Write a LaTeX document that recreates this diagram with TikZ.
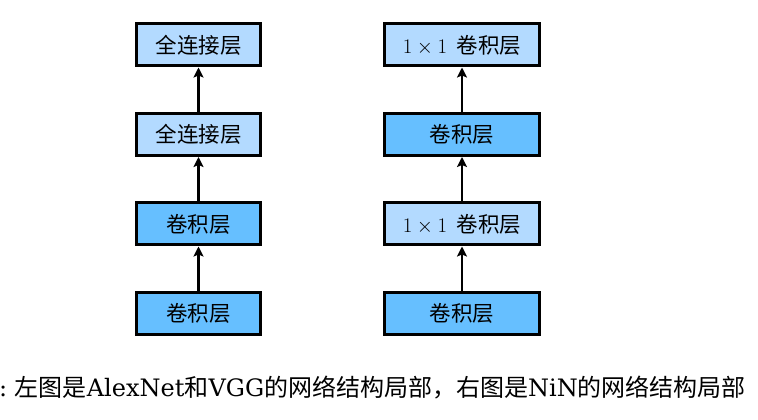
\documentclass[tikz,border=0pt]{standalone}
\usepackage{fontspec}
\setmainfont{DejaVu Serif}
\newfontfamily\cjk{Noto Sans CJK SC}
\usetikzlibrary{positioning,arrows.meta}
\definecolor{fcblue}{RGB}{179,218,255}
\definecolor{convblue}{RGB}{102,191,255}
\tikzset{
  layer/.style={draw=black,line width=3pt,minimum height=42pt,inner sep=0pt,
    font=\fontsize{21.5}{24}\selectfont\cjk},
  narrow/.style={layer,minimum width=124pt},
  wide/.style={layer,minimum width=155pt},
  up/.style={-{Stealth[length=10pt,width=10pt,inset=2pt]},line width=2.4pt}
}

\begin{document}
\begin{tikzpicture}[x=1pt,y=1pt,node distance=44.5pt]
        \useasboundingbox (0,0) rectangle (758,420) ;
        %\draw[very thin,gray,step=10] (0,0) grid (758,420) ;
        % left: AlexNet / VGG
        \node[narrow,fill=convblue] (lconvA) at (198.5,106.5) {卷积层} ;
        \node[narrow,fill=convblue,above=of lconvA] (lconvB) {卷积层} ;
        \node[narrow,fill=fcblue,above=of lconvB] (lfcA) {全连接层} ;
        \node[narrow,fill=fcblue,above=of lfcA] (lfcB) {全连接层} ;
        \draw[up] (lconvA) -- (lconvB) ;
        \draw[up] (lconvB) -- (lfcA) ;
        \draw[up] (lfcA) -- (lfcB) ;
        % right: NiN
        \node[wide,fill=convblue] (rconvA) at (462,106.5) {卷积层} ;
        \node[wide,fill=fcblue,above=of rconvA] (rpwA) {$1\times1$\ \ 卷积层} ;
        \node[wide,fill=convblue,above=of rpwA] (rconvB) {卷积层} ;
        \node[wide,fill=fcblue,above=of rconvB] (rpwB) {$1\times1$\ \ 卷积层} ;
        \draw[up] (rconvA) -- (rpwA) ;
        \draw[up] (rpwA) -- (rconvB) ;
        \draw[up] (rconvB) -- (rpwB) ;
        % caption
        \node[anchor=west,inner sep=0pt,font=\fontsize{24}{28}\selectfont] (caption) at (-1,32)
        {:~{\cjk 左图是}AlexNet{\cjk 和}VGG{\cjk 的网络结构局部，右图是}NiN{\cjk 的网络结构局部}} ;
\end{tikzpicture}
\end{document}
